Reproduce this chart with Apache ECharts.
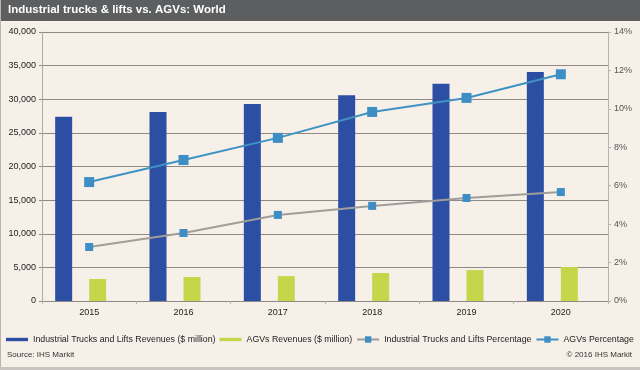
<!DOCTYPE html>
<html>
<head>
<meta charset="utf-8">
<script src="https://cdn.jsdelivr.net/npm/echarts@6/dist/echarts.min.js"></script>
<style>
  html, body { margin: 0; padding: 0; background: #f7f0e9; }
  #chart { width: 640px; height: 370px; }
</style>
</head>
<body>
<div id="chart"></div>
<script>
const years = ['2015', '2016', '2017', '2018', '2019', '2020'];
const truckRevenue = [27400, 28100, 29300, 30600, 32300, 34050];
const agvRevenue = [3270, 3570, 3700, 4160, 4600, 5060];
const truckPct = [2.81, 3.54, 4.48, 4.95, 5.36, 5.67];
const agvPct = [6.19, 7.34, 8.49, 9.84, 10.57, 11.8];
const leftTicks = { min: 0, max: 40000, interval: 5000 };
const rightTicks = { min: 0, max: 14, interval: 2 };

const titleText = 'Industrial trucks & lifts vs. AGVs: World';
const names = [
  'Industrial Trucks and Lifts Revenues ($ million)',
  'AGVs Revenues ($ million)',
  'Industrial Trucks and Lifts Percentage',
  'AGVs Percentage'
];

const font = 'Liberation Sans, Arial, sans-serif';
const chart = echarts.init(document.getElementById('chart'), null, { renderer: 'canvas' });
const blank = years.map(() => null);

chart.setOption({
  backgroundColor: '#f7f0e9',
  animation: false,
  textStyle: { fontFamily: font },
  title: {
    text: titleText,
    left: 4, top: 2, padding: [2, 4],
    textStyle: { color: '#ffffff', fontSize: 11.5, fontWeight: 'bold', fontFamily: font }
  },
  graphic: [
    { type: 'rect', left: 0, top: 0, z: 0, shape: { width: 640, height: 21 }, style: { fill: '#5d5e60' } },
    { type: 'rect', left: 0, top: 0, z: 0, shape: { width: 1, height: 370 }, style: { fill: '#b9b4af' } },
    { type: 'rect', left: 0, top: 367, z: 0, shape: { width: 640, height: 3 }, style: { fill: '#c9c4bf' } },
    { type: 'text', left: 7, top: 351, style: { text: 'Source: IHS Markit', fill: '#333', font: '8px ' + font } },
    { type: 'text', right: 8, top: 351, style: { text: '\u00a9 2016 IHS Markit', fill: '#333', font: '8px ' + font } }
  ],
  legend: {
    left: 6, top: 335, right: 0, padding: 0,
    itemWidth: 22, itemHeight: 8, itemGap: 4,
    textStyle: { fontSize: 8.8, color: '#222', fontFamily: font },
    data: [
      { name: names[0], icon: 'path://M0,0h26v4h-26z' },
      { name: names[1], icon: 'path://M0,0h26v4h-26z' },
      { name: names[2] },
      { name: names[3] }
    ]
  },
  grid: { left: 42, right: 32, top: 32, bottom: 69 },
  xAxis: {
    type: 'category',
    data: years,
    boundaryGap: true,
    axisLine: { show: true, lineStyle: { color: '#8f8a86', width: 1 } },
    axisTick: { show: true, length: 3, lineStyle: { color: '#b8b3ae' } },
    axisLabel: { color: '#222', fontSize: 9, margin: 7, fontFamily: font },
    splitLine: { show: false }
  },
  yAxis: [
    {
      type: 'value',
      min: leftTicks.min, max: leftTicks.max, interval: leftTicks.interval,
      axisLine: { show: true, lineStyle: { color: '#b0aba6' } },
      axisTick: { show: true, length: 3, lineStyle: { color: '#8f8a86' } },
      axisLabel: {
        color: '#222', fontSize: 9, margin: 6, fontFamily: font,
        formatter: v => v.toLocaleString('en-US')
      },
      splitLine: { show: true, lineStyle: { color: '#8f8a86', width: 1 } }
    },
    {
      type: 'value',
      min: rightTicks.min, max: rightTicks.max, interval: rightTicks.interval,
      position: 'right',
      axisLine: { show: true, lineStyle: { color: '#b8b3ae' } },
      axisTick: { show: true, length: 3, lineStyle: { color: '#b8b3ae' } },
      axisLabel: { color: '#555', fontSize: 9, margin: 6, fontFamily: font, formatter: '{value}%' },
      splitLine: { show: false }
    }
  ],
  series: [
    {
      name: names[0], type: 'bar', data: truckRevenue, yAxisIndex: 0,
      barWidth: 17, barGap: '0%', itemStyle: { color: '#2c4fa3' }, z: 2
    },
    { name: 'spacer-a', type: 'bar', data: blank, barWidth: 17, barGap: '0%', silent: true },
    {
      name: names[1], type: 'bar', data: agvRevenue, yAxisIndex: 0,
      barWidth: 17, barGap: '0%', itemStyle: { color: '#c6d64b' }, z: 2
    },
    { name: 'spacer-b', type: 'bar', data: blank, barWidth: 17, barGap: '0%', silent: true },
    {
      name: names[2], type: 'line', data: truckPct, yAxisIndex: 1,
      symbol: 'rect', symbolSize: 8, showSymbol: true,
      lineStyle: { color: '#a19d9a', width: 2 },
      itemStyle: { color: '#3c8ec5' }, z: 4
    },
    {
      name: names[3], type: 'line', data: agvPct, yAxisIndex: 1,
      symbol: 'rect', symbolSize: 10, showSymbol: true,
      lineStyle: { color: '#3f93c3', width: 2 },
      itemStyle: { color: '#3c8ec5' }, z: 4
    }
  ]
});
</script>
</body>
</html>
